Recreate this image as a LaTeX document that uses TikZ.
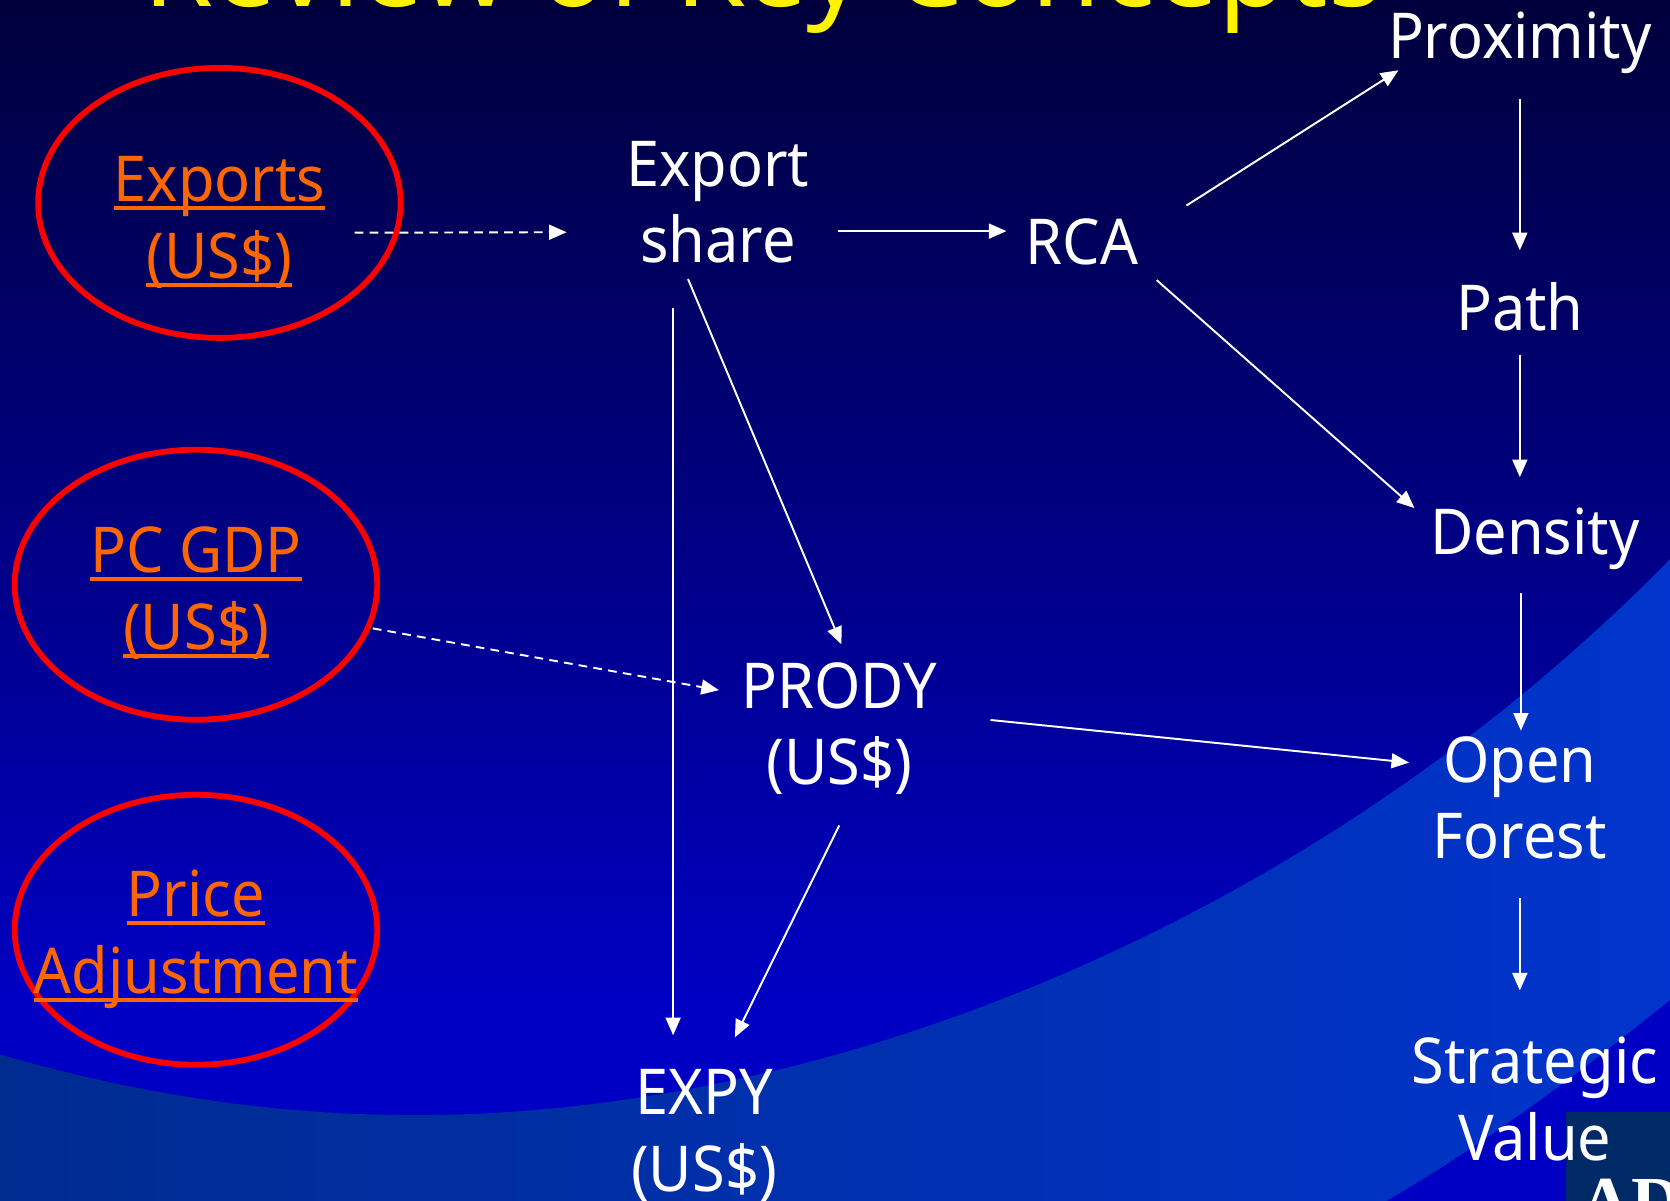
\documentclass[tikz,border=0pt]{standalone}
\usepackage{fontspec}
\setmainfont{Noto Sans}[FakeStretch=0.94]
\newfontfamily\titlefont{Noto Sans}
\newfontfamily\logofont{Liberation Serif}
\usetikzlibrary{arrows.meta,shapes.geometric}
\definecolor{skytop}{HTML}{00003C}
\definecolor{skylow}{HTML}{0000C4}
\definecolor{swooshl}{HTML}{002C90}
\definecolor{swooshr}{HTML}{0034CC}
\definecolor{logoblue}{HTML}{002A66}
\definecolor{linkorange}{HTML}{FF6600}
\newcommand{\linktext}[1]{\setbox0\hbox{#1}\rlap{\vrule width\wd0 height -0.07em depth 0.13em}\box0}
\tikzset{
  label/.style={text=white,align=center,font=\fontsize{36}{43.5}\selectfont,inner sep=0pt},
  linklabel/.style={label,text=linkorange},
  ring/.style={draw=red,line width=3.3pt,ellipse,inner sep=0pt,minimum width=7.25cm,minimum height=5.4cm},
  arrowline/.style={draw=white,line width=1.1pt,-{Triangle[length=10pt,width=8.5pt]}},
  dashline/.style={arrowline,dash pattern=on 5pt off 3.5pt}
}
\begin{document}
\begin{tikzpicture}[x=0.0213cm,y=-0.0213cm]
  \useasboundingbox (0,0) rectangle (1568,1127.6);
  \clip (0,0) rectangle (1568,1127.6);
  % background
  \fill[skylow] (0,900) rectangle (1568,1127.6);
  \shade[top color=skytop,bottom color=skylow] (0,0) rectangle (1568,950);
  \shade[left color=swooshl,right color=swooshr] (0,990) .. controls (130,1028) and (260,1047) .. (390,1047)
    .. controls (800,1047) and (1250,850) .. (1568,525) -- (1568,1127.6) -- (0,1127.6) -- cycle;
  \fill[skylow] (1568,939) .. controls (1480,1010) and (1400,1070) .. (1302,1127.6) -- (1568,1127.6) -- cycle;
  \fill[logoblue] (1470,1044) rectangle (1568,1127.6);
  \node[anchor=base west,inner sep=0pt,text=white,font=\logofont\bfseries\fontsize{40}{40}\selectfont] (logo) at (1484,1151) {AD};
  % title
  \node[anchor=base west,inner sep=0pt,text=yellow,font=\titlefont\fontsize{64}{64}\selectfont] (title) at (134,6) {Review of Key Concepts};
  % circled inputs
  \foreach \n/\x/\y in {ringexports/206/190.5,ringgdp/184/549,ringprice/184/873}{
    \node[ring] (\n) at (\x,\y) {};
  }
  \node[linklabel] (exports) at (206,209) {\linktext{Exports}\\\linktext{(US\$)}};
  \node[linklabel] (gdp) at (184,557) {\linktext{PC GDP}\\\linktext{(US\$)}};
  \node[linklabel] (price) at (184,882) {\linktext{Price}\\\linktext{Adjustment}};
  % measures
  \node[label] (share) at (674,190) {Export\\share};
  \node[label] (rca) at (1016,227) {RCA};
  \node[label] (proximity) at (1427,40) {Proximity};
  \node[label] (path) at (1427,288) {Path};
  \node[label] (density) at (1441,506) {Density};
  \node[label] (prody) at (788,684) {PRODY\\(US\$)};
  \node[label] (forest) at (1427,749) {Open\\Forest};
  \node[label] (value) at (1441,1032) {Strategic\\Value};
  \node[label] (expy) at (661,1066) {EXPY\\(US\$)};
  % links
  \draw[dashline] ([shift={(127,28)}]ringexports.center) -- ([shift={(-142,28)}]share.center);
  \draw[arrowline] ([shift={(113,27)}]share.center) -- ([shift={(-71,-10)}]rca.center);
  \draw[arrowline] ([shift={(98,-34)}]rca.center) -- ([shift={(-114,26)}]proximity.center);
  \draw[arrowline] ([shift={(0,53)}]proximity.center) -- ([shift={(0,-53)}]path.center);
  \draw[arrowline] ([shift={(0,45)}]path.center) -- ([shift={(-14,-58)}]density.center);
  \draw[arrowline] ([shift={(70,36)}]rca.center) -- ([shift={(-113,-29)}]density.center);
  \draw[arrowline] ([shift={(-28,72)}]share.center) -- ([shift={(2,-79)}]prody.center);
  \draw[arrowline] ([shift={(-42,99)}]share.center) -- ([shift={(-29,-94)}]expy.center);
  \draw[dashline] ([shift={(166,41)}]ringgdp.center) -- ([shift={(-113,-36)}]prody.center);
  \draw[arrowline] ([shift={(0,91)}]prody.center) -- ([shift={(29,-92)}]expy.center);
  \draw[arrowline] ([shift={(142,-8)}]prody.center) -- ([shift={(-104,-33)}]forest.center);
  \draw[arrowline] ([shift={(-13,51)}]density.center) -- ([shift={(1,-63)}]forest.center);
  \draw[arrowline] ([shift={(0,94)}]forest.center) -- ([shift={(-14,-102)}]value.center);
\end{tikzpicture}
\end{document}
